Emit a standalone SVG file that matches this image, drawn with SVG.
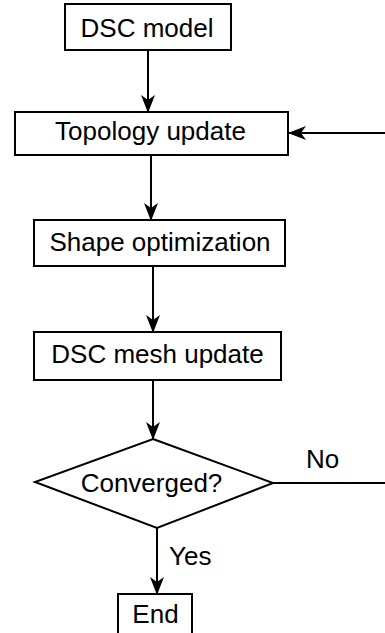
<svg xmlns="http://www.w3.org/2000/svg" width="385" height="633" viewBox="0 0 385 633">
<defs>
<style>
.box{fill:#fff;stroke:#000;stroke-width:2}
.lbl{font-family:"Liberation Sans",Arial,sans-serif;font-size:26px;fill:#000}
.c{text-anchor:middle}
.edge{fill:none;stroke:#000;stroke-width:2}
</style>
<marker id="ah" markerUnits="userSpaceOnUse" viewBox="0 0 18 14" refX="17" refY="7" markerWidth="18" markerHeight="14" orient="auto">
<path d="M0,0 L18,7 L0,14 L5,7 z" fill="#000"/>
</marker>
</defs>
<rect width="385" height="633" fill="#fff"/>
<g id="connectors">
<path class="edge" d="M148,50 V112" marker-end="url(#ah)"/>
<path class="edge" d="M151,155 V220" marker-end="url(#ah)"/>
<path class="edge" d="M153,266 V332" marker-end="url(#ah)"/>
<path class="edge" d="M153,380 V439" marker-end="url(#ah)"/>
<path class="edge" d="M157,528 V594" marker-end="url(#ah)"/>
<path class="edge" d="M273,483 H392 V133 H289" marker-end="url(#ah)"/>
<text class="lbl" x="306" y="468">No</text>
<text class="lbl" x="169" y="565">Yes</text>
</g>
<g id="dsc-model">
<rect class="box" x="65" y="4" width="166" height="46"/>
<text class="lbl c" x="147" y="37">DSC model</text>
</g>
<g id="topology-update">
<rect class="box" x="15" y="112" width="273" height="43"/>
<text class="lbl c" x="150.5" y="140">Topology update</text>
</g>
<g id="shape-optimization">
<rect class="box" x="34" y="220" width="251" height="46"/>
<text class="lbl c" x="160" y="251">Shape optimization</text>
</g>
<g id="dsc-mesh-update">
<rect class="box" x="34" y="332" width="247" height="48"/>
<text class="lbl c" x="157.5" y="363">DSC mesh update</text>
</g>
<g id="converged">
<path class="box" d="M153,439 L273,483 L157,528 L35,482 z"/>
<text class="lbl c" x="151.5" y="492">Converged?</text>
</g>
<g id="end">
<rect class="box" x="118" y="594" width="74" height="50"/>
<text class="lbl c" x="155.5" y="623">End</text>
</g>
</svg>
